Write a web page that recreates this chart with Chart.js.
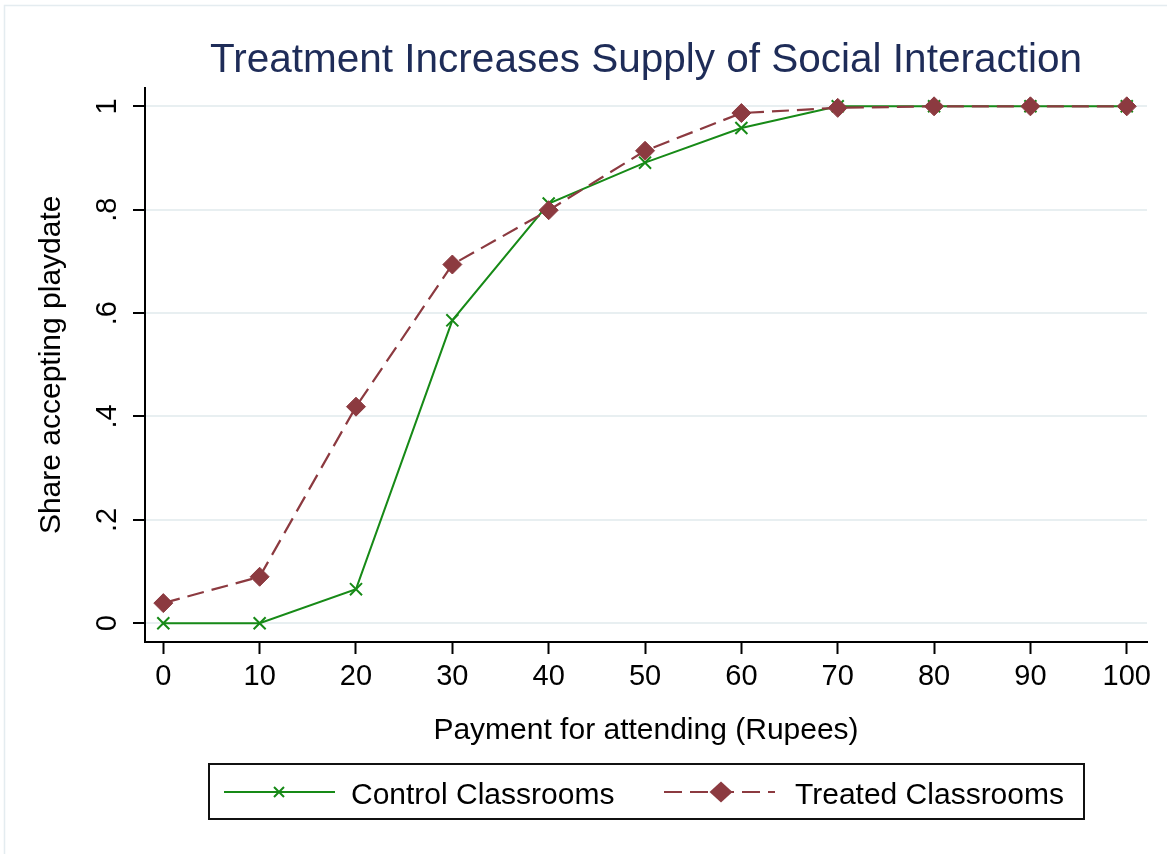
<!DOCTYPE html>
<html><head><meta charset="utf-8">
<script src="https://cdn.jsdelivr.net/npm/chart.js@4.4.1/dist/chart.umd.min.js"></script>
<style>html,body{margin:0;padding:0;background:#fff;} canvas{display:block;}</style>
</head><body>
<canvas id="c" width="1167" height="854"></canvas>
<script>
// ---- data ----
const payments = [0, 10, 20, 30, 40, 50, 60, 70, 80, 90, 100];
const controlShare = [0, 0, 0.066, 0.586, 0.812, 0.891, 0.958, 1, 1, 1, 1];
const treatedShare = [0.039, 0.090, 0.419, 0.694, 0.799, 0.914, 0.987, 0.997, 1, 1, 1];
const xTickValues = [0, 10, 20, 30, 40, 50, 60, 70, 80, 90, 100];
const yTickValues = [0, 0.2, 0.4, 0.6, 0.8, 1];
const yTickLabels = ['0', '.2', '.4', '.6', '.8', '1'];
const seriesNames = ['Control Classrooms', 'Treated Classrooms'];
const chartTitle = 'Treatment Increases Supply of Social Interaction';
const xAxisTitle = 'Payment for attending (Rupees)';
const yAxisTitle = 'Share accepting playdate';

const GREEN = '#178a17';
const MAROON = '#8c3a40';
const FONT = "'Liberation Sans', Arial, sans-serif";

const backgroundPlugin = {
  id: 'bg',
  beforeDraw(chart) {
    const ctx = chart.ctx;
    ctx.save();
    ctx.fillStyle = '#ffffff';
    ctx.fillRect(0, 0, chart.width, chart.height);
    ctx.strokeStyle = '#e4ecf0';
    ctx.lineWidth = 1.5;
    ctx.beginPath();
    ctx.moveTo(4.5, chart.height + 5);
    ctx.lineTo(4.5, 5.5);
    ctx.lineTo(chart.width + 5, 5.5);
    ctx.stroke();
    ctx.restore();
  }
};

function drawCross(ctx, x, y, half, color, lw) {
  ctx.save();
  ctx.strokeStyle = color; ctx.lineWidth = lw;
  ctx.beginPath();
  ctx.moveTo(x - half, y - half); ctx.lineTo(x + half, y + half);
  ctx.moveTo(x - half, y + half); ctx.lineTo(x + half, y - half);
  ctx.stroke();
  ctx.restore();
}
function drawDiamond(ctx, x, y, rx, ry, color) {
  ctx.save();
  ctx.fillStyle = color;
  ctx.beginPath();
  ctx.moveTo(x, y - ry); ctx.lineTo(x + rx, y); ctx.lineTo(x, y + ry); ctx.lineTo(x - rx, y);
  ctx.closePath(); ctx.fill();
  ctx.restore();
}

const legendPlugin = {
  id: 'stataLegend',
  afterDraw(chart) {
    const ctx = chart.ctx;
    const ca = chart.chartArea;
    const xs = chart.scales.x;
    const w = 875, h = 55;
    const left = Math.round((ca.left + ca.right) / 2 - w / 2);
    const top = Math.round(xs.bottom + 4);
    const my = top + 28;
    ctx.save();
    ctx.strokeStyle = '#111'; ctx.lineWidth = 2;
    ctx.strokeRect(left, top, w, h);
    // control item
    ctx.strokeStyle = GREEN; ctx.lineWidth = 2; ctx.setLineDash([]);
    ctx.beginPath(); ctx.moveTo(left + 15, my); ctx.lineTo(left + 126, my); ctx.stroke();
    drawCross(ctx, left + 70, my, 5, GREEN, 2);
    // treated item
    ctx.strokeStyle = MAROON; ctx.lineWidth = 2.2; ctx.setLineDash([18, 8]);
    ctx.beginPath(); ctx.moveTo(left + 455, my); ctx.lineTo(left + 566, my); ctx.stroke();
    ctx.setLineDash([]);
    drawDiamond(ctx, left + 512, my, 11.5, 10.5, MAROON);
    // texts
    ctx.fillStyle = '#000';
    ctx.font = '30px ' + FONT;
    ctx.textBaseline = 'alphabetic';
    ctx.textAlign = 'left';
    ctx.fillText(seriesNames[0], left + 142, top + 40);
    ctx.fillText(seriesNames[1], left + 586, top + 40);
    ctx.restore();
  }
};

new Chart(document.getElementById('c'), {
  type: 'line',
  data: {
    datasets: [
      {
        label: seriesNames[0],
        data: payments.map((p, i) => ({ x: p, y: controlShare[i] })),
        borderColor: GREEN, borderWidth: 2, tension: 0, fill: false,
        pointStyle: 'crossRot', pointRadius: 8.5, pointBorderWidth: 2,
        pointBorderColor: GREEN, pointBackgroundColor: GREEN,
        order: 1
      },
      {
        label: seriesNames[1],
        data: payments.map((p, i) => ({ x: p, y: treatedShare[i] })),
        borderColor: MAROON, borderWidth: 2.2, borderDash: [17, 8], tension: 0, fill: false,
        pointStyle: 'rectRot', pointRadius: 9.5, pointBorderWidth: 1,
        pointBorderColor: MAROON, pointBackgroundColor: MAROON,
        order: 0
      }
    ]
  },
  options: {
    responsive: false,
    animation: false,
    devicePixelRatio: 1,
    layout: { padding: { left: 0, right: 20, top: 0, bottom: 94 } },
    plugins: {
      legend: { display: false },
      tooltip: { enabled: false },
      title: {
        display: true, text: chartTitle, fullSize: false, align: 'center',
        color: '#1e2c58', font: { family: FONT, size: 40.5, weight: 'normal' },
        padding: { top: 37, bottom: 2 }
      }
    },
    scales: {
      x: {
        type: 'linear', min: -1.9, max: 102.1,
        afterBuildTicks: s => { s.ticks = xTickValues.map(v => ({ value: v })); },
        afterFit: s => { s.height = 118; },
        ticks: { font: { family: FONT, size: 29 }, color: '#000', padding: 6, minRotation: 0, maxRotation: 0, autoSkip: false },
        grid: { drawOnChartArea: false, drawTicks: true, tickLength: 12, tickColor: '#000', tickWidth: 2 },
        border: { display: true, color: '#000', width: 2 },
        title: { display: true, text: xAxisTitle, color: '#000', font: { family: FONT, size: 30 }, padding: { top: 0, bottom: 11 } }
      },
      y: {
        type: 'linear', min: -0.0362, max: 1.0362,
        afterBuildTicks: s => { s.ticks = yTickValues.map(v => ({ value: v })); },
        afterFit: s => { s.width = 145; },
        ticks: {
          font: { family: FONT, size: 29 }, color: '#000', padding: 13,
          minRotation: 90, maxRotation: 90, crossAlign: 'center', autoSkip: false,
          callback: (v) => { const k = yTickValues.findIndex(t => Math.abs(t - v) < 1e-9); return k >= 0 ? yTickLabels[k] : ''; }
        },
        grid: { color: '#e8eff1', lineWidth: 2, drawTicks: true, tickLength: 12, tickColor: '#000', tickWidth: 2 },
        border: { display: true, color: '#000', width: 2 },
        title: { display: true, text: yAxisTitle, color: '#000', font: { family: FONT, size: 30 }, padding: { top: 34, bottom: 0 } }
      }
    }
  },
  plugins: [backgroundPlugin, legendPlugin]
});
</script>
</body></html>
